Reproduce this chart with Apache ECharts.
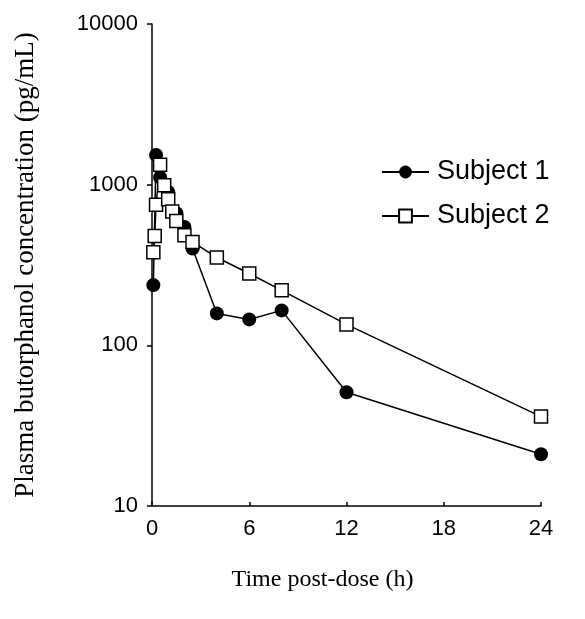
<!DOCTYPE html>
<html>
<head>
<meta charset="utf-8">
<script src="https://cdn.jsdelivr.net/npm/echarts@6/dist/echarts.min.js"></script>
<style>
  html, body { margin: 0; padding: 0; background: #fff; }
  #chart { width: 585px; height: 619px; }
</style>
</head>
<body>
<div id="chart"></div>
<script>
// Sampling times (h) and plasma concentrations (pg/mL)
const seriesNames = ['Subject 1', 'Subject 2'];
const times1 = [0.083, 0.25, 0.5, 1, 1.5, 2, 2.5, 4, 6, 8, 12, 24];
const subject1 = [237, 1530, 1110, 900, 665, 545, 400, 158, 145, 165, 51, 21];
const times2 = [0.083, 0.167, 0.25, 0.5, 0.75, 1, 1.25, 1.5, 2, 2.5, 4, 6, 8, 12, 24];
const subject2 = [380, 480, 750, 1330, 990, 810, 680, 595, 485, 440, 352, 280, 220, 135, 36];
const xTicks = [0, 6, 12, 18, 24];

const pairs = (xs, ys) => xs.map((x, i) => [x, ys[i]]);

const chart = echarts.init(document.getElementById('chart'), null, { renderer: 'canvas' });

chart.setOption({
  backgroundColor: '#ffffff',
  animation: false,
  grid: { left: 152, right: 44, top: 24, bottom: 113, containLabel: false },
  legend: {
    orient: 'vertical',
    left: 381,
    top: 158,
    padding: 0,
    itemWidth: 47,
    itemHeight: 16,
    itemGap: 16,
    data: seriesNames,
    textStyle: { fontFamily: 'Liberation Sans', fontSize: 27, color: '#000', lineHeight: 28, padding: [0, 0, 0, 3] }
  },
  xAxis: {
    type: 'value',
    min: xTicks[0],
    max: xTicks[xTicks.length - 1],
    interval: 6,
    name: 'Time post-dose (h)',
    nameLocation: 'middle',
    nameGap: 62,
    nameTextStyle: { fontFamily: 'Liberation Serif', fontSize: 24, color: '#000', padding: [0, 48, 0, 0] },
    axisLine: { lineStyle: { color: '#000', width: 1.5 } },
    axisTick: { inside: true, length: 4, lineStyle: { color: '#000', width: 1.5 } },
    axisLabel: { fontFamily: 'Liberation Sans', fontSize: 22, color: '#000', margin: 12 },
    splitLine: { show: false }
  },
  yAxis: {
    type: 'log',
    logBase: 10,
    min: 10,
    max: 10000,
    name: 'Plasma butorphanol concentration (pg/mL)',
    nameLocation: 'middle',
    nameGap: 113,
    nameTextStyle: { fontFamily: 'Liberation Serif', fontSize: 27, color: '#000' },
    axisLine: { show: true, lineStyle: { color: '#000', width: 1.5 } },
    axisTick: { show: true, length: 5, lineStyle: { color: '#000', width: 1.5 } },
    minorTick: { show: false },
    axisLabel: {
      fontFamily: 'Liberation Sans', fontSize: 22, color: '#000', margin: 14,
      formatter: (v) => String(Math.round(v))
    },
    splitLine: { show: false }
  },
  series: [
    {
      name: seriesNames[0],
      type: 'line',
      data: pairs(times1, subject1),
      symbol: 'circle',
      symbolSize: 14,
      lineStyle: { color: '#000', width: 1.5 },
      itemStyle: { color: '#000', borderColor: '#000', borderWidth: 0 },
      z: 2
    },
    {
      name: seriesNames[1],
      type: 'line',
      data: pairs(times2, subject2),
      symbol: 'rect',
      symbolSize: 13,
      lineStyle: { color: '#000', width: 1.5 },
      itemStyle: { color: '#fff', borderColor: '#000', borderWidth: 1.5 },
      z: 3
    }
  ]
});
</script>
</body>
</html>
